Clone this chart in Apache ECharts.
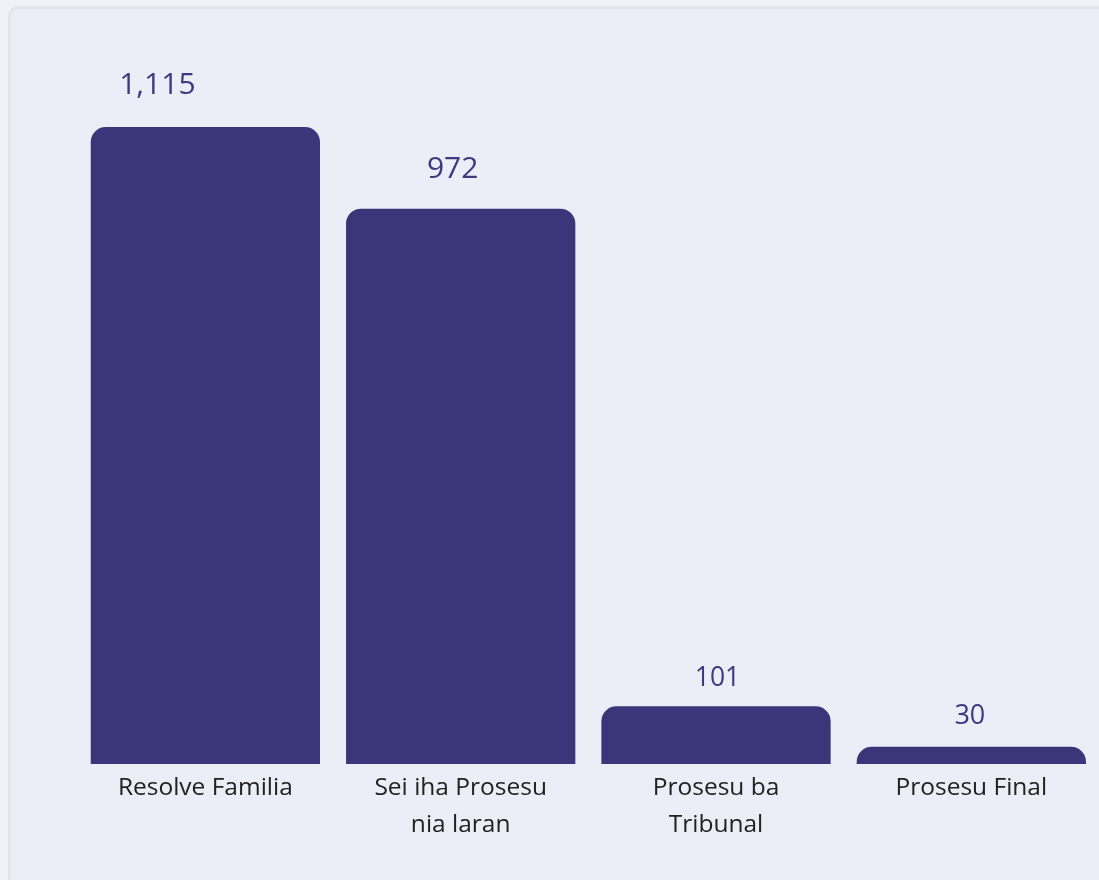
<!DOCTYPE html>
<html>
<head>
<meta charset="utf-8">
<script src="https://cdn.jsdelivr.net/npm/echarts@6/dist/echarts.min.js"></script>
<style>
  html, body { margin: 0; padding: 0; background: #eff2f7; }
  #card {
    position: absolute; left: 8px; top: 6px; width: 1120px; height: 900px;
    background: #ebeef6; border: 3px solid #e1e5ee; border-radius: 10px;
    box-sizing: border-box;
  }
  #chart { position: absolute; left: 0; top: 0; width: 1099px; height: 880px; }
</style>
</head>
<body>
<div id="card"></div>
<div id="chart"></div>
<script>
const categorias = ["Resolve Familia", "Sei iha Prosesu\nnia laran", "Prosesu ba\nTribunal", "Prosesu Final"];
const valores = [1115, 972, 101, 30];

// the value labels in the original are not all the same size nor centred
const labelSizes = [30, 30, 26.5, 27];
const labelOffsets = [[-48, -1], [-8, 0], [1.5, 0], [-1.5, 0]];
const labelDistances = [26, 24.5, 14.5, 17];

const chart = echarts.init(document.getElementById("chart"));

const datos = valores.map((v, i) => ({
  value: v,
  label: {
    fontSize: labelSizes[i],
    offset: labelOffsets[i],
    distance: labelDistances[i],
  },
}));

const option = {
  backgroundColor: "transparent",
  textStyle: { fontFamily: "Open Sans" },
  grid: { left: 77.7, width: 1024, top: 127, bottom: 116, containLabel: false },
  xAxis: {
    type: "category",
    data: categorias,
    axisLine: { show: false },
    axisTick: { show: false },
    axisLabel: {
      color: "#222222",
      fontSize: 24.5,
      lineHeight: 37,
      margin: 6,
      interval: 0,
    },
  },
  yAxis: {
    type: "value",
    min: 0,
    max: 1115,
    show: false,
    splitLine: { show: false },
  },
  series: [
    {
      type: "bar",
      data: datos,
      barCategoryGap: "10.2%",
      itemStyle: { color: "#3b3679", borderRadius: [15, 15, 0, 0] },
      label: {
        show: true,
        position: "top",
        color: "#3d3a80",
        formatter: (p) => p.value.toLocaleString("en-US"),
      },
    },
  ],
};

chart.setOption(option);
</script>
</body>
</html>
